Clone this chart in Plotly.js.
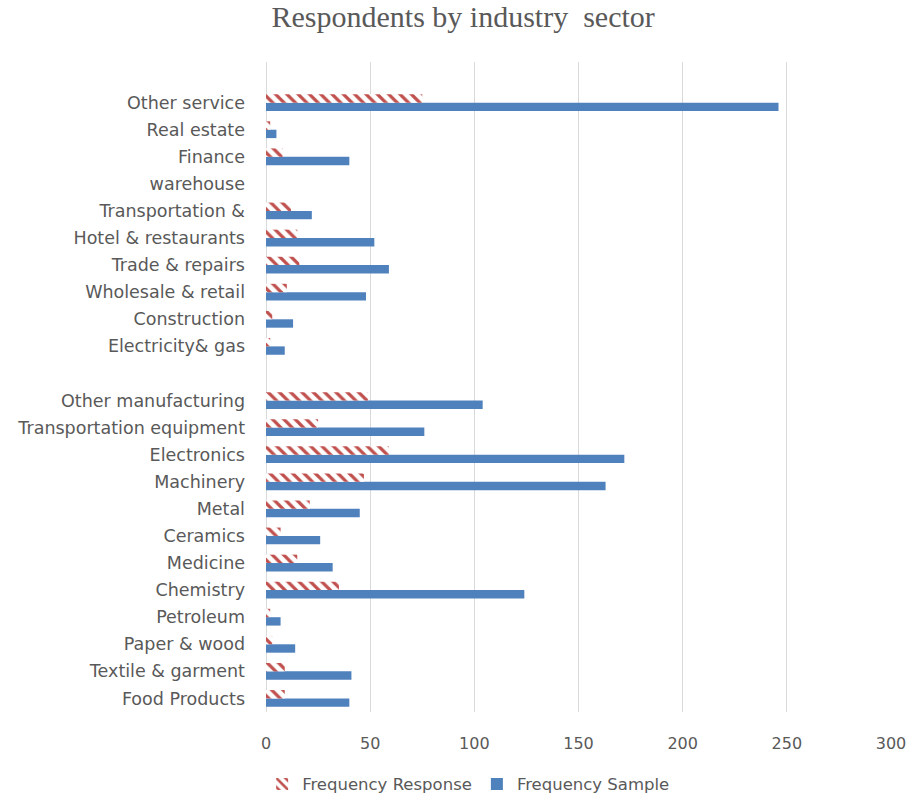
<!DOCTYPE html>
<html>
<head>
<meta charset="utf-8">
<script src="https://cdn.plot.ly/plotly-3.0.1.min.js"></script>
<style>html,body{margin:0;padding:0;background:#fff;}#chart{width:910px;height:801px;}</style>
</head>
<body>
<div id="chart"></div>
<script>
const categories = ["Food Products","Textile & garment","Paper & wood","Petroleum","Chemistry","Medicine","Ceramics","Metal","Machinery","Electronics","Transportation equipment","Other manufacturing"," ","Electricity& gas","Construction","Wholesale & retail","Trade & repairs","Hotel & restaurants","Transportation &","warehouse","Finance","Real estate","Other service"];
const frequencyResponse = [9,9,3,2,35,15,7,21,47,59,25,49,null,2,3,10,16,15,12,null,8,2,75];
const frequencySample = [40,41,14,7,124,32,26,45,163,172,76,104,null,9,13,48,59,52,22,null,40,5,246];

const fontFam = "'DejaVu Sans', 'Noto Sans', sans-serif";
const traces = [
  {
    type: 'bar', orientation: 'h', name: 'Frequency Sample',
    y: categories, x: frequencySample,
    marker: {color: '#4f81bd', line: {width: 0}},
    legendrank: 2, hoverinfo: 'x+y'
  },
  {
    type: 'bar', orientation: 'h', name: 'Frequency Response',
    y: categories, x: frequencyResponse,
    marker: {color: '#ffffff', line: {width: 0},
      pattern: {shape: '\\', fgcolor: '#c0504d', bgcolor: '#ffffff', size: 8, solidity: 0.4, fillmode: 'replace'}},
    legendrank: 1, hoverinfo: 'x+y'
  }
];
const layout = {
  width: 910, height: 801,
  margin: {l: 266, r: 19, t: 62, b: 89, autoexpand: false},
  paper_bgcolor: '#ffffff', plot_bgcolor: '#ffffff',
  title: {text: 'Respondents by industry  sector', x: 0.509, xanchor: 'center', y: 0.992, yanchor: 'top',
    font: {family: "'Liberation Serif', 'Times New Roman', serif", size: 30, color: '#595959'}},
  barmode: 'group', bargap: 0.38, bargroupgap: 0,
  xaxis: {range: [0, 300], dtick: 50, tick0: 0, showgrid: true, gridcolor: '#d9d9d9', gridwidth: 1,
    zeroline: true, zerolinecolor: '#d9d9d9', zerolinewidth: 1, showline: false, ticks: '',
    tickfont: {family: fontFam, size: 16, color: '#595959'}, ticklabelstandoff: 20, fixedrange: true},
  yaxis: {type: 'category', categoryorder: 'array', categoryarray: categories, range: [-0.5, 23.5],
    showgrid: false, zeroline: false, showline: false, ticks: '',
    tickfont: {family: fontFam, size: 17.5, color: '#595959'}, ticklabelstandoff: 20, fixedrange: true},
  legend: {orientation: 'h', xref: 'container', yref: 'container', x: 0.515, xanchor: 'center', y: 0.021, yanchor: 'middle',
    font: {family: fontFam, size: 16.5, color: '#595959'}, traceorder: 'normal', itemwidth: 30},
  showlegend: true
};
Plotly.newPlot('chart', traces, layout, {displayModeBar: false, staticPlot: true});
</script>
</body>
</html>
